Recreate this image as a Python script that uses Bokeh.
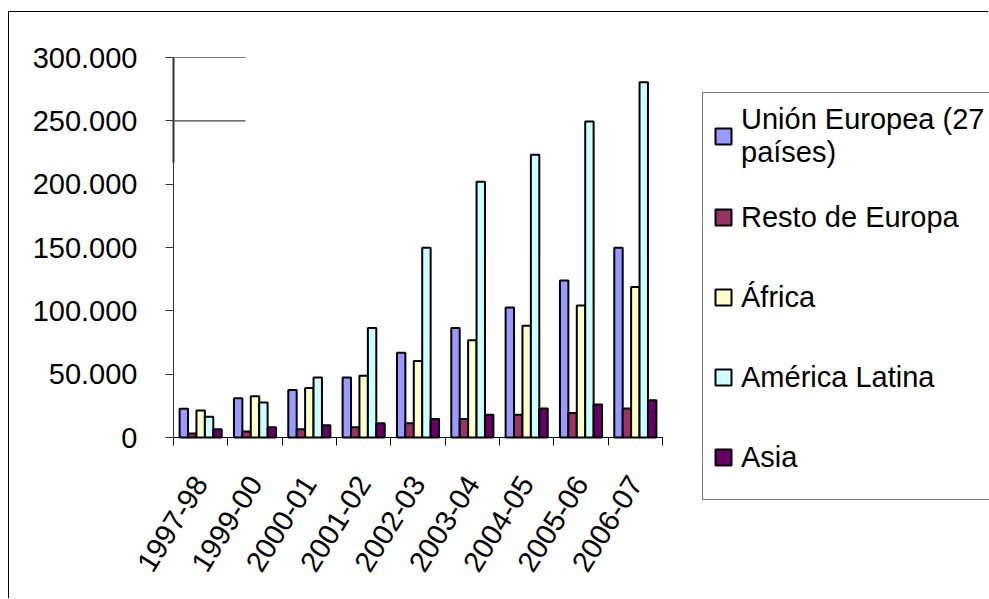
import math
from bokeh.plotting import figure
from bokeh.models import FixedTicker, Legend, LegendItem, Range1d
from bokeh.embed import file_html
from bokeh.resources import INLINE

categories = ["1997-98", "1999-00", "2000-01", "2001-02", "2002-03",
              "2003-04", "2004-05", "2005-06", "2006-07"]
union_europea = [22600, 31000, 37500, 47300, 66900, 86400, 102700, 123900, 149900]
resto_europa = [3200, 4700, 6600, 8100, 11300, 14700, 17900, 19400, 22800]
africa = [21300, 32600, 39100, 48800, 60400, 76700, 88200, 104200, 118900]
america_latina = [16300, 27600, 47300, 86400, 149900, 201900, 223200, 249400, 280400]
asia = [6600, 8100, 9700, 11300, 14700, 17900, 22800, 26000, 29400]

series_names = ["Unión Europea (27\npaíses)", "Resto de Europa", "África",
                "América Latina", "Asia"]
series_values = [union_europea, resto_europa, africa, america_latina, asia]
series_colors = ["#9999FF", "#993366", "#FFFFCC", "#CCFFFF", "#660066"]

y_ticks = [0, 50000, 100000, 150000, 200000, 250000, 300000]
y_tick_labels = ["0", "50.000", "100.000", "150.000", "200.000", "250.000", "300.000"]
y_max = 300000

FONT = "Liberation Sans"

# canvas layout (pixels)
W, H = 980, 587
AXIS_TOP_PX = 45      # canvas y of the value y_max
AXIS_ZERO_PX = 425    # canvas y of the value 0
AXIS_START_PX = 164   # canvas x where the category axis starts
AXIS_END_PX = 653     # canvas x where the category axis ends
n = len(categories)
px_per_cat = (AXIS_END_PX - AXIS_START_PX) / n
x_start = -AXIS_START_PX / px_per_cat
x_end = (W - AXIS_START_PX) / px_per_cat
val_per_px = y_max / (AXIS_ZERO_PX - AXIS_TOP_PX)
y_top = y_max + AXIS_TOP_PX * val_per_px
y_start = y_max - (H - AXIS_TOP_PX) * val_per_px

p = figure(width=W, height=H, output_backend="svg", toolbar_location=None,
           x_range=Range1d(x_start, x_end), y_range=Range1d(y_start, y_top),
           min_border_left=0, min_border_right=0, min_border_top=0,
           min_border_bottom=0)
p.styles = {"border-left": "1px solid black", "border-top": "1px solid black",
            "margin-top": "11px", "margin-left": "8px"}
p.outline_line_color = None
p.xgrid.visible = False
p.ygrid.visible = False
p.background_fill_color = "white"
p.border_fill_color = "white"

bw = 0.155
renderers = []
for k, (name, vals, col) in enumerate(zip(series_names, series_values, series_colors)):
    xs = [i + 0.5 + (k - 2) * bw for i in range(n)]
    r = p.vbar(x=xs, top=vals, bottom=0, width=bw, fill_color=col,
               line_color="black", line_width=2)
    renderers.append((name, r))

# partial gridline stubs seen in the original rendering
p.segment(x0=[0, 0], x1=[1.325, 1.325], y0=[250000, 300000], y1=[250000, 300000],
          line_color=["#444444", "#777777"], line_width=1.2)
p.segment(x0=[0], x1=[0], y0=[217000], y1=[300000], line_color="#777777", line_width=2.5)

# x axis, fixed at value 0
xa = p.xaxis[0]
centers = [i + 0.5 for i in range(n)]
xa.fixed_location = 0
xa.bounds = (0, n)
xa.ticker = FixedTicker(ticks=centers, minor_ticks=list(range(n + 1)))
xa.major_label_overrides = {c: lab for c, lab in zip(centers, categories)}
xa.major_tick_line_color = None
xa.major_tick_in = 0
xa.major_tick_out = 0
xa.minor_tick_in = 0
xa.minor_tick_out = 8
xa.minor_tick_line_color = "black"
xa.axis_line_color = "black"
xa.axis_line_width = 1
xa.major_label_orientation = math.radians(58)
xa.major_label_text_font = FONT
xa.major_label_text_font_size = "29px"
xa.major_label_text_color = "black"
xa.major_label_standoff = 33

# y axis, fixed at the start of the category axis
ya = p.yaxis[0]
ya.fixed_location = 0
ya.bounds = (0, y_max)
ya.ticker = FixedTicker(ticks=y_ticks)
ya.major_label_overrides = {t: l for t, l in zip(y_ticks, y_tick_labels)}
ya.minor_tick_line_color = None
ya.major_tick_in = 0
ya.major_tick_out = 8
ya.major_tick_line_color = "#333333"
ya.axis_line_color = "#333333"
ya.major_label_text_font = FONT
ya.major_label_text_font_size = "29px"
ya.major_label_text_color = "black"
ya.major_label_standoff = 28

# legend (position relative to frame bottom-left, in pixels)
LEG_LEFT_PX = 693
LEG_BOTTOM_PX = 488
items = [LegendItem(label=nm, renderers=[r]) for nm, r in renderers]
legend = Legend(items=items, location=(LEG_LEFT_PX, H - LEG_BOTTOM_PX))
legend.label_text_font = FONT
legend.label_text_font_size = "29px"
legend.label_text_color = "black"
legend.glyph_width = 20
legend.glyph_height = 20
legend.label_height = 64
legend.label_standoff = 8
legend.spacing = 16
legend.padding = 10
legend.margin = 0
legend.border_line_color = "black"
legend.border_line_width = 1
legend.background_fill_color = "white"
legend.background_fill_alpha = 1
p.add_layout(legend, "center")

open("out.html", "w").write(file_html(p, INLINE))
